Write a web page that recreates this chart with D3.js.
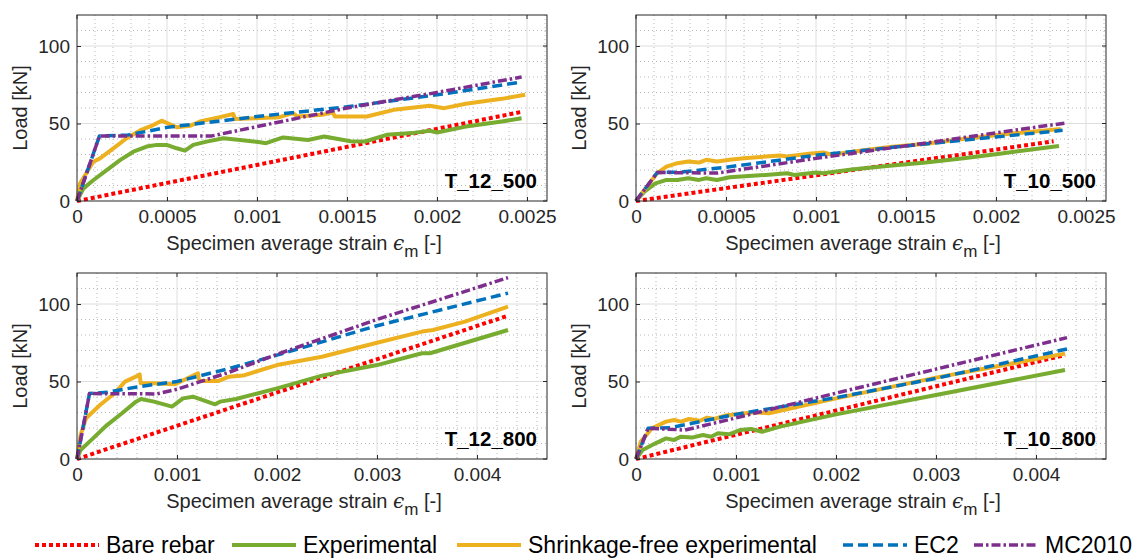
<!DOCTYPE html>
<html>
<head>
<meta charset="utf-8">
<script src="https://cdn.jsdelivr.net/npm/d3@7"></script>
<style>
  html, body { margin: 0; padding: 0; background: #fff; }
  svg { display: block; font-family: "Liberation Sans", Arial, sans-serif; }
</style>
</head>
<body>
<svg id="chart" width="1136" height="559"></svg>
<script>
// ---------------- DATA ----------------
const seriesNames = ["Bare rebar", "Experimental", "Shrinkage-free experimental", "EC2", "MC2010"];
const panelTitles = ["T_12_500", "T_10_500", "T_12_800", "T_10_800"];

const yTicks = [0, 50, 100];
const xTicks500 = [0, 0.0005, 0.001, 0.0015, 0.002, 0.0025];
const xTickLabels500 = ["0", "0.0005", "0.001", "0.0015", "0.002", "0.0025"];
const xTicks800 = [0, 0.001, 0.002, 0.003, 0.004];
const xTickLabels800 = ["0", "0.001", "0.002", "0.003", "0.004"];

// T_12_500  [strain, load kN]
const bare_12_500 = [[0, 0], [0.00247, 57.5]];
const exp_12_500 = [[0,0],[0.000035,8],[0.00009,13.4],[0.000165,19.9],[0.000239,26.4],[0.000313,31.8],[0.000387,35.1],[0.000443,36.2],[0.000498,36.2],[0.000554,34],[0.0006,32.5],[0.000646,36.2],[0.00072,38.3],[0.000813,40.5],[0.000906,39.4],[0.001017,37.9],[0.00105,37.3],[0.001145,41],[0.001284,39.4],[0.001373,41.6],[0.00152,38.6],[0.0016,38.4],[0.00172,42.7],[0.00186,43.8],[0.00196,45.3],[0.002,44.2],[0.00216,48],[0.00236,51.3],[0.00247,53.4]];
const sf_12_500 = [[0,0],[0.0000167,11.3],[0.0000907,25.3],[0.000128,27.5],[0.000202,34],[0.000276,40.5],[0.00035,45.5],[0.000424,49],[0.00047,51.8],[0.000554,47.6],[0.000628,48.5],[0.000683,51.3],[0.000794,54.1],[0.000868,56.1],[0.000878,52.9],[0.001017,53.5],[0.001125,54.1],[0.0012,56.7],[0.001224,54.5],[0.001363,55.6],[0.00142,57.2],[0.001433,54.5],[0.00161,54.5],[0.00176,58.8],[0.00196,61.4],[0.00204,59.9],[0.00216,62.7],[0.00236,65.9],[0.00249,68.5]];
const ec2_12_500 = [[0,0],[0.000125,42],[0.00028,42.5],[0.0005,47.5],[0.001,54.5],[0.0015,60.8],[0.002,68.5],[0.00247,76.8]];
const mc_12_500 = [[0,0],[0.000125,42],[0.00075,42],[0.001,48],[0.0015,60],[0.002,70],[0.00247,80]];

// T_10_500
const bare_10_500 = [[0, 0], [0.00232, 38.5]];
const exp_10_500 = [[0,0],[0.000047,6],[0.000108,11.4],[0.000169,13.6],[0.00023,13.6],[0.00029,14.7],[0.00035,13.6],[0.00039,14.7],[0.00045,13.6],[0.00052,15.3],[0.00072,16.8],[0.00084,17.9],[0.00088,16.8],[0.001,18.4],[0.00104,17.9],[0.00121,20.5],[0.00141,22.7],[0.00161,24.8],[0.00182,27.6],[0.00202,30.5],[0.00235,35.5]];
const sf_10_500 = [[0,0],[0.000118,18],[0.000169,22.2],[0.00023,24.4],[0.00029,25.5],[0.00035,24.8],[0.00039,26.6],[0.00045,25.5],[0.00052,26.6],[0.0006,27.6],[0.00072,28.7],[0.0008,29.4],[0.00084,28.7],[0.00096,30.5],[0.00104,31.3],[0.00109,29.8],[0.00121,32],[0.00141,34.8],[0.00161,36.9],[0.00182,40],[0.00202,42.8],[0.00236,46.4]];
const ec2_10_500 = [[0,0],[0.000118,18.4],[0.00025,18.6],[0.0005,21.8],[0.001,29.5],[0.0015,35.5],[0.002,41.3],[0.00237,45.6]];
const mc_10_500 = [[0,0],[0.000118,18.4],[0.0003,18.2],[0.00045,18],[0.001,27.5],[0.0015,35.6],[0.002,44],[0.00238,50.2]];

// T_12_800
const bare_12_800 = [[0, 0], [0.00431, 92.5]];
const exp_12_800 = [[0,0],[0.000036,5.8],[0.00016,13.3],[0.0003,21.9],[0.00045,29.5],[0.00059,37],[0.00064,38.7],[0.00077,37],[0.00095,33.8],[0.00106,39.1],[0.00116,40.2],[0.00138,35.3],[0.00143,37],[0.00159,38.7],[0.002,45.6],[0.00245,53.8],[0.003,60.6],[0.00345,68.2],[0.00353,68.2],[0.00431,83.2]];
const sf_12_800 = [[0,0],[0.000036,15.5],[0.00009,26.2],[0.00023,34.8],[0.000376,42.4],[0.00048,49.9],[0.00061,53.8],[0.000627,54.6],[0.000637,48.8],[0.00077,48.8],[0.00098,48.2],[0.00109,51.6],[0.00121,55.3],[0.00122,50.3],[0.00141,50.3],[0.00152,53.1],[0.00166,53.8],[0.002,60.6],[0.00245,66],[0.003,75],[0.00345,82.2],[0.00356,83.2],[0.00388,88.6],[0.00431,98.3]];
const ec2_12_800 = [[0,0],[0.000125,42.2],[0.0003,43],[0.0006,46.5],[0.001,50],[0.0015,58],[0.002,67],[0.003,86],[0.00431,107]];
const mc_12_800 = [[0,0],[0.000125,42.2],[0.0008,42],[0.001,45],[0.0015,55.5],[0.002,67.5],[0.003,90],[0.00431,117]];

// T_10_800
const bare_10_800 = [[0, 0], [0.00429, 67.1]];
const exp_10_800 = [[0,0],[0.000066,5.8],[0.000195,10.1],[0.0003,13.3],[0.00038,12.3],[0.00045,14.4],[0.00056,13.8],[0.00067,15.5],[0.00075,14.4],[0.00082,16.6],[0.00093,15.9],[0.00104,18.7],[0.00115,19.4],[0.00126,17.6],[0.00144,20.9],[0.002,28.8],[0.003,41.3],[0.00429,57.4]];
const sf_10_800 = [[0,0],[0.000048,11.2],[0.00016,19.8],[0.0003,24.1],[0.00038,25.2],[0.00045,24.1],[0.00053,25.8],[0.00064,24.7],[0.00071,26.7],[0.00078,25.8],[0.00089,28],[0.001,28.8],[0.00119,30.1],[0.00133,29.5],[0.002,39.1],[0.003,52.5],[0.00429,68]];
const ec2_10_800 = [[0,0],[0.000121,19.8],[0.00034,20.2],[0.001,28.8],[0.002,39.6],[0.003,52],[0.00431,71]];
const mc_10_800 = [[0,0],[0.000121,19.8],[0.00049,18.7],[0.001,26.5],[0.002,42.5],[0.003,58],[0.00431,78.3]];

// ---------------- STYLE / LAYOUT ----------------
const colors = ["#ff0000", "#77ac30", "#edb120", "#0072bd", "#7e2f8e"];
const widths = [4, 4, 4, 3.5, 3.5];
const dashes = ["4,3", null, null, "10,5", "9,3,2.5,3"];

const panels = [
  { title: panelTitles[0], data: [bare_12_500, exp_12_500, sf_12_500, ec2_12_500, mc_12_500], xMax: 0.0025 * 470 / 450, ticks: xTicks500, labels: xTickLabels500, minor: 0.0001, x0: 77, y0: 15 },
  { title: panelTitles[1], data: [bare_10_500, exp_10_500, sf_10_500, ec2_10_500, mc_10_500], xMax: 0.0025 * 470 / 450, ticks: xTicks500, labels: xTickLabels500, minor: 0.0001, x0: 636, y0: 15 },
  { title: panelTitles[2], data: [bare_12_800, exp_12_800, sf_12_800, ec2_12_800, mc_12_800], xMax: 0.0047, ticks: xTicks800, labels: xTickLabels800, minor: 0.0002, x0: 77, y0: 273 },
  { title: panelTitles[3], data: [bare_10_800, exp_10_800, sf_10_800, ec2_10_800, mc_10_800], xMax: 0.0047, ticks: xTicks800, labels: xTickLabels800, minor: 0.0002, x0: 636, y0: 273 }
];
const PW = 470, PH = 186;
const FONT = '"Liberation Sans", Arial, sans-serif';

const svg = d3.select("#chart");

panels.forEach(p => {
  const x = d3.scaleLinear().domain([0, p.xMax]).range([p.x0, p.x0 + PW]);
  const y = d3.scaleLinear().domain([0, 120]).range([p.y0 + PH, p.y0]);
  const g = svg.append("g");

  // minor grid
  const minorX = d3.range(0, p.xMax + 1e-12, p.minor).filter(v => !p.ticks.some(t => Math.abs(t - v) < 1e-9) && v > 0);
  const minorY = d3.range(10, 121, 10).filter(v => v % 50 !== 0 && v < 120);
  g.append("g").selectAll("line").data(minorX).join("line")
    .attr("x1", d => x(d)).attr("x2", d => x(d)).attr("y1", p.y0).attr("y2", p.y0 + PH)
    .attr("stroke", "#b8b8b8").attr("stroke-width", 1).attr("stroke-dasharray", "1,3");
  g.append("g").selectAll("line").data(minorY).join("line")
    .attr("y1", d => y(d)).attr("y2", d => y(d)).attr("x1", p.x0).attr("x2", p.x0 + PW)
    .attr("stroke", "#b8b8b8").attr("stroke-width", 1).attr("stroke-dasharray", "1,3");
  // major grid
  g.append("g").selectAll("line").data(p.ticks.filter(v => v > 0)).join("line")
    .attr("x1", d => x(d)).attr("x2", d => x(d)).attr("y1", p.y0).attr("y2", p.y0 + PH)
    .attr("stroke", "#dedede").attr("stroke-width", 1);
  g.append("g").selectAll("line").data(yTicks.filter(v => v > 0)).join("line")
    .attr("y1", d => y(d)).attr("y2", d => y(d)).attr("x1", p.x0).attr("x2", p.x0 + PW)
    .attr("stroke", "#dedede").attr("stroke-width", 1);

  // series
  const line = d3.line().x(d => x(d[0])).y(d => y(d[1]));
  p.data.forEach((s, i) => {
    g.append("path").datum(s).attr("d", line)
      .attr("fill", "none").attr("stroke", colors[i]).attr("stroke-width", widths[i])
      .attr("stroke-dasharray", dashes[i]).attr("stroke-linejoin", "round");
  });

  // axes
  const xAxis = d3.axisBottom(x).tickValues(p.ticks).tickFormat((d, i) => p.labels[i]).tickSizeInner(-4).tickSizeOuter(0).tickPadding(9);
  const yAxis = d3.axisLeft(y).tickValues(yTicks).tickFormat(d3.format("d")).tickSizeInner(-4).tickSizeOuter(0).tickPadding(7);
  const xa = g.append("g").attr("transform", `translate(0,${p.y0 + PH})`).call(xAxis);
  const ya = g.append("g").attr("transform", `translate(${p.x0},0)`).call(yAxis);
  [xa, ya].forEach(a => {
    a.select(".domain").remove();
    a.selectAll("line").attr("stroke", "#262626");
    a.selectAll("text").attr("fill", "#262626").style("font-size", "19px").style("font-family", FONT);
  });
  // top/right ticks
  g.append("g").selectAll("line").data(p.ticks).join("line")
    .attr("x1", d => x(d)).attr("x2", d => x(d)).attr("y1", p.y0).attr("y2", p.y0 + 4).attr("stroke", "#262626");
  g.append("g").selectAll("line").data(yTicks).join("line")
    .attr("y1", d => y(d)).attr("y2", d => y(d)).attr("x1", p.x0 + PW).attr("x2", p.x0 + PW - 4).attr("stroke", "#262626");
  // box
  g.append("rect").attr("x", p.x0).attr("y", p.y0).attr("width", PW).attr("height", PH)
    .attr("fill", "none").attr("stroke", "#262626").attr("stroke-width", 1);

  // panel label
  g.append("text").attr("x", p.x0 + PW - 10).attr("y", p.y0 + PH - 13)
    .attr("text-anchor", "end").style("font-size", "20.5px").style("font-weight", "bold").attr("fill", "#000")
    .text(p.title);

  // axis labels
  const xl = g.append("text").attr("x", p.x0 + PW / 2 - 8).attr("y", p.y0 + PH + 49)
    .attr("text-anchor", "middle").style("font-size", "20px").attr("fill", "#262626");
  xl.append("tspan").text("Specimen average strain ");
  xl.append("tspan").style("font-family", '"DejaVu Serif", serif').style("font-style", "italic").text("\u03f5");
  xl.append("tspan").attr("dy", 7).style("font-size", "17px").text("m");
  xl.append("tspan").attr("dy", -7).text(" [-]");

  g.append("text").attr("transform", `translate(${p.x0 - 50},${p.y0 + PH / 2}) rotate(-90)`)
    .attr("text-anchor", "middle").style("font-size", "20px").attr("fill", "#262626").text("Load [kN]");
});

// ---------------- LEGEND ----------------
const legendX = [35, 232, 457, 843, 974];
const lg = svg.append("g");
seriesNames.forEach((name, i) => {
  const lx = legendX[i];
  lg.append("line").attr("x1", lx).attr("x2", lx + 64).attr("y1", 545).attr("y2", 545)
    .attr("stroke", colors[i]).attr("stroke-width", widths[i]).attr("stroke-dasharray", dashes[i]);
  lg.append("text").attr("x", lx + 71).attr("y", 553).style("font-size", "23px").attr("fill", "#000").text(name);
});
</script>
</body>
</html>
